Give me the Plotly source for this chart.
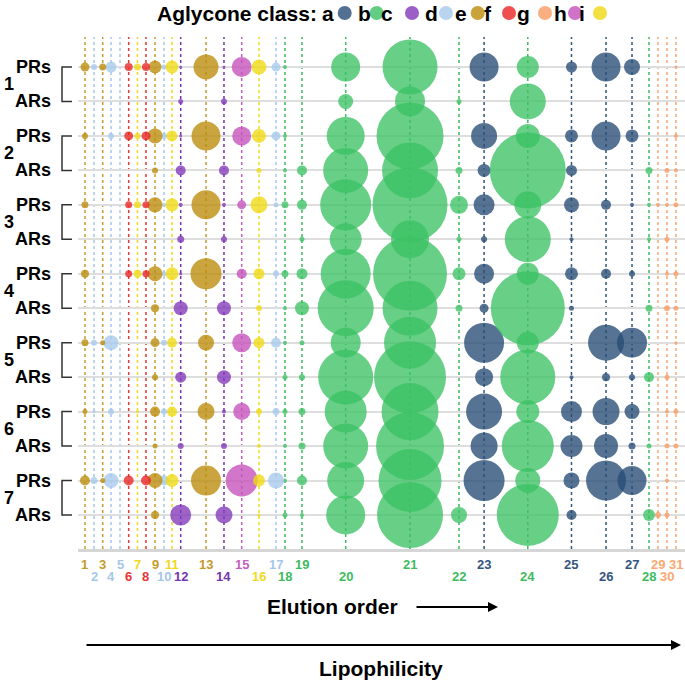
import plotly.graph_objects as go

# ---------------- data ----------------
compounds = [str(i) for i in range(1, 32)]
aglycone_class = ["e", "d", "e", "d", "d", "f", "i", "f", "e", "d",
                  "i", "c", "e", "c", "h", "i", "d", "b", "b", "b",
                  "b", "b", "a", "b", "a", "a", "a", "b", "g", "g", "g"]
# elution position (relative retention, 0-100 scale)
elution_pos = [1.15, 2.64, 4.07, 5.44, 6.92, 8.35, 9.8, 11.2, 12.69, 14.17,
               15.49, 16.92, 21.09, 24.05, 26.97, 29.82, 32.62, 34.1, 36.9, 44.1,
               54.7, 62.77, 66.9, 74.1, 81.3, 86.99, 91.27, 94.07, 95.55, 97.03, 98.5]

row_groups = ["1", "2", "3", "4", "5", "6", "7"]
row_types = ["PRs", "ARs"]

# relative abundance score of each compound (1..31) per sample row
PRs_1 = [9, 6, 7, 11, 0, 8, 7, 8, 13, 5, 13, 3, 25, 3, 20, 15, 9, 4, 0, 29, 55, 0, 29, 22, 11, 29, 16, 0, 0, 0, 3]
ARs_1 = [0, 0, 0, 0, 0, 0, 0, 0, 0, 0, 0, 5, 0, 6, 0, 0, 0, 0, 0, 15, 30, 5, 0, 36, 0, 0, 0, 0, 0, 0, 0]
PRs_2 = [6, 0, 0, 6, 0, 9, 6, 9, 15, 6, 11, 3, 29, 0, 19, 14, 9, 4, 0, 38, 67, 0, 26, 24, 13, 29, 13, 0, 0, 0, 4]
ARs_2 = [0, 0, 0, 0, 0, 0, 0, 0, 6, 0, 0, 10, 0, 10, 0, 5, 0, 4, 10, 45, 56, 7, 13, 76, 11, 0, 0, 7, 0, 5, 4]
PRs_3 = [7, 0, 0, 0, 0, 7, 7, 7, 15, 4, 13, 4, 29, 4, 9, 17, 5, 7, 10, 51, 75, 18, 21, 27, 15, 10, 4, 4, 4, 4, 5]
ARs_3 = [0, 0, 0, 0, 0, 0, 0, 0, 0, 0, 0, 7, 0, 6, 0, 0, 0, 0, 5, 32, 38, 5, 6, 46, 4, 0, 0, 4, 0, 5, 0]
PRs_4 = [8, 0, 0, 0, 0, 7, 8, 7, 15, 5, 13, 3, 31, 0, 10, 11, 6, 7, 11, 50, 74, 13, 20, 22, 13, 10, 6, 0, 0, 4, 5]
ARs_4 = [0, 0, 0, 0, 0, 0, 0, 0, 8, 0, 0, 14, 0, 14, 0, 6, 0, 4, 14, 56, 55, 7, 9, 74, 5, 0, 0, 7, 0, 6, 5]
PRs_5 = [7, 6, 5, 15, 0, 0, 0, 0, 9, 6, 10, 3, 16, 0, 19, 11, 10, 4, 5, 30, 52, 0, 40, 22, 0, 36, 30, 0, 0, 0, 3]
ARs_5 = [0, 0, 0, 0, 0, 0, 0, 0, 6, 0, 0, 11, 0, 14, 0, 0, 0, 5, 6, 55, 72, 0, 18, 55, 4, 8, 6, 10, 0, 5, 0]
PRs_6 = [5, 3, 0, 6, 0, 0, 3, 0, 10, 6, 10, 0, 17, 4, 17, 6, 7, 5, 7, 42, 57, 0, 36, 23, 21, 27, 15, 0, 0, 4, 5]
ARs_6 = [0, 0, 0, 0, 0, 0, 0, 0, 5, 0, 0, 6, 0, 6, 0, 4, 0, 4, 7, 45, 68, 0, 27, 52, 22, 24, 7, 5, 0, 5, 5]
PRs_7 = [10, 7, 5, 15, 0, 10, 0, 10, 15, 10, 13, 0, 30, 0, 32, 12, 16, 4, 10, 37, 63, 0, 41, 25, 16, 40, 29, 0, 0, 4, 0]
ARs_7 = [0, 0, 0, 0, 0, 0, 0, 0, 8, 0, 0, 21, 0, 17, 0, 3, 0, 5, 4, 39, 66, 16, 0, 62, 10, 0, 0, 12, 6, 5, 0]

rows = [PRs_1, ARs_1, PRs_2, ARs_2, PRs_3, ARs_3, PRs_4, ARs_4,
        PRs_5, ARs_5, PRs_6, ARs_6, PRs_7, ARs_7]

class_names = ["a", "b", "c", "d", "e", "f", "g", "h", "i"]

# ---------------- styles ----------------
marker_col = {"a": "rgb(39,76,117)", "b": "rgb(60,194,100)", "c": "rgb(130,55,186)",
              "d": "rgb(167,201,234)", "e": "rgb(187,139,9)", "f": "rgb(234,36,36)",
              "g": "rgb(249,155,99)", "h": "rgb(196,80,186)", "i": "rgb(239,218,18)"}
label_col = {"a": "#34557e", "b": "#3dbb5e", "c": "#7434ad", "d": "#a6c6e8", "e": "#c49b2c",
             "f": "#e83434", "g": "#f9a872", "h": "#c45fbf", "i": "#f0d820"}
FONT = "Arial, Liberation Sans, sans-serif"

W, H = 685, 688
ML, MR, MT, MB = 78, 0, 37, 139
PW = W - ML - MR
PH = H - MT - MB


def pxx(px):
    return (px - ML) / PW


def pxy(py):
    return (H - MB - py) / PH


fig = go.Figure()

max_score = max(max(r) for r in rows)
sizeref = max_score / 76.0

for cl in class_names:
    xs, ys, ss = [], [], []
    for ri, r in enumerate(rows):
        for ci, v in enumerate(r):
            if aglycone_class[ci] == cl and v > 0:
                xs.append(elution_pos[ci])
                ys.append(ri)
                ss.append(v)
    fig.add_trace(go.Scatter(
        x=xs, y=ys, mode="markers", name=cl, showlegend=False,
        marker=dict(size=ss, sizemode="diameter", sizeref=sizeref,
                    color=marker_col[cl], opacity=0.78, line=dict(width=0)),
        hoverinfo="skip"))

shapes = []
annotations = []

# vertical dashed lines at each compound
for ci, xp in enumerate(elution_pos):
    shapes.append(dict(type="line", xref="x", yref="paper", x0=xp, x1=xp, y0=0, y1=1,
                       line=dict(color=label_col[aglycone_class[ci]], width=1.5, dash="3px,3px"),
                       layer="below"))
    # tick labels (staggered)
    upper = (ci % 2 == 0)
    annotations.append(dict(xref="x", yref="paper", x=xp, y=pxy(564 if upper else 576),
                            text="<b>%s</b>" % compounds[ci], showarrow=False,
                            font=dict(family=FONT, size=13, color=label_col[aglycone_class[ci]]),
                            xanchor="center", yanchor="middle"))

# row labels and brackets
for gi, g in enumerate(row_groups):
    yP, yA = 2 * gi, 2 * gi + 1
    for k, t in enumerate(row_types):
        annotations.append(dict(xref="paper", yref="y", x=pxx(53), y=yP + k,
                                text="<b>%s</b>" % t, showarrow=False, xanchor="right",
                                yanchor="middle", font=dict(family=FONT, size=18, color="black")))
    annotations.append(dict(xref="paper", yref="y", x=pxx(9), y=yP + 0.5,
                            text="<b>%s</b>" % g, showarrow=False, xanchor="center",
                            yanchor="middle", font=dict(family=FONT, size=18, color="black")))
    x0, x1 = pxx(62), pxx(72)
    shapes.append(dict(type="path", xref="paper", yref="y",
                       path="M %f,%f L %f,%f L %f,%f L %f,%f" % (x1, yP, x0, yP, x0, yA, x1, yA),
                       line=dict(color="#333333", width=1.5)))

# legend at top
annotations.append(dict(xref="paper", yref="paper", x=pxx(319), y=pxy(13),
                        text="<b>Aglycone class:</b>", showarrow=False, xanchor="right",
                        yanchor="middle", font=dict(family=FONT, size=21, color="black")))
letter_px = [328, 364.5, 386.5, 431.5, 461, 487.5, 523.5, 560, 581.5]
dot_px = [344.7, 376.7, 412, 446, 477.7, 509, 545, 575, 600]
for cl, lx, dx in zip(class_names, letter_px, dot_px):
    annotations.append(dict(xref="paper", yref="paper", x=pxx(lx), y=pxy(13),
                            text="<b>%s</b>" % cl, showarrow=False, xanchor="center",
                            yanchor="middle", font=dict(family=FONT, size=21, color="black")))
    shapes.append(dict(type="circle", xref="paper", yref="paper",
                       xsizemode="pixel", ysizemode="pixel",
                       xanchor=pxx(dx), yanchor=pxy(13), x0=-7, x1=7, y0=-7, y1=7,
                       fillcolor=marker_col[cl], opacity=0.8, line=dict(width=0)))

# bottom texts and arrows
annotations.append(dict(xref="paper", yref="paper", x=pxx(332), y=pxy(606),
                        text="<b>Elution order</b>", showarrow=False, xanchor="center",
                        yanchor="middle", font=dict(family=FONT, size=21, color="black")))
annotations.append(dict(xref="paper", yref="paper", x=pxx(498), y=pxy(607), text="",
                        showarrow=True, ax=-83, ay=0, arrowhead=2, arrowsize=1,
                        arrowwidth=2, arrowcolor="black"))
annotations.append(dict(xref="paper", yref="paper", x=pxx(681), y=pxy(645), text="",
                        showarrow=True, ax=-596, ay=0, arrowhead=2, arrowsize=1,
                        arrowwidth=2, arrowcolor="black"))
annotations.append(dict(xref="paper", yref="paper", x=pxx(381), y=pxy(668),
                        text="<b>Lipophilicity</b>", showarrow=False, xanchor="center",
                        yanchor="middle", font=dict(family=FONT, size=21, color="black")))

y_top = -(67 - MT) / 34.46
y_bot = (H - MB - 67) / 34.46

fig.update_layout(
    width=W, height=H,
    margin=dict(l=ML, r=MR, t=MT, b=MB, pad=0),
    paper_bgcolor="white", plot_bgcolor="white",
    xaxis=dict(range=[0, 100], showgrid=False, zeroline=False, showticklabels=False,
               ticks="", showline=True, linecolor="#d6d6d6", linewidth=3, automargin=False),
    yaxis=dict(range=[y_bot, y_top], tickvals=list(range(14)), showgrid=True,
               gridcolor="#dedede", gridwidth=2, zeroline=False, showticklabels=False,
               ticks="", showline=False, automargin=False),
    shapes=shapes, annotations=annotations, showlegend=False,
)

fig.write_html("out.html", config={"displayModeBar": False},
               post_script="document.body.style.margin='0';document.body.style.overflow='hidden';")
